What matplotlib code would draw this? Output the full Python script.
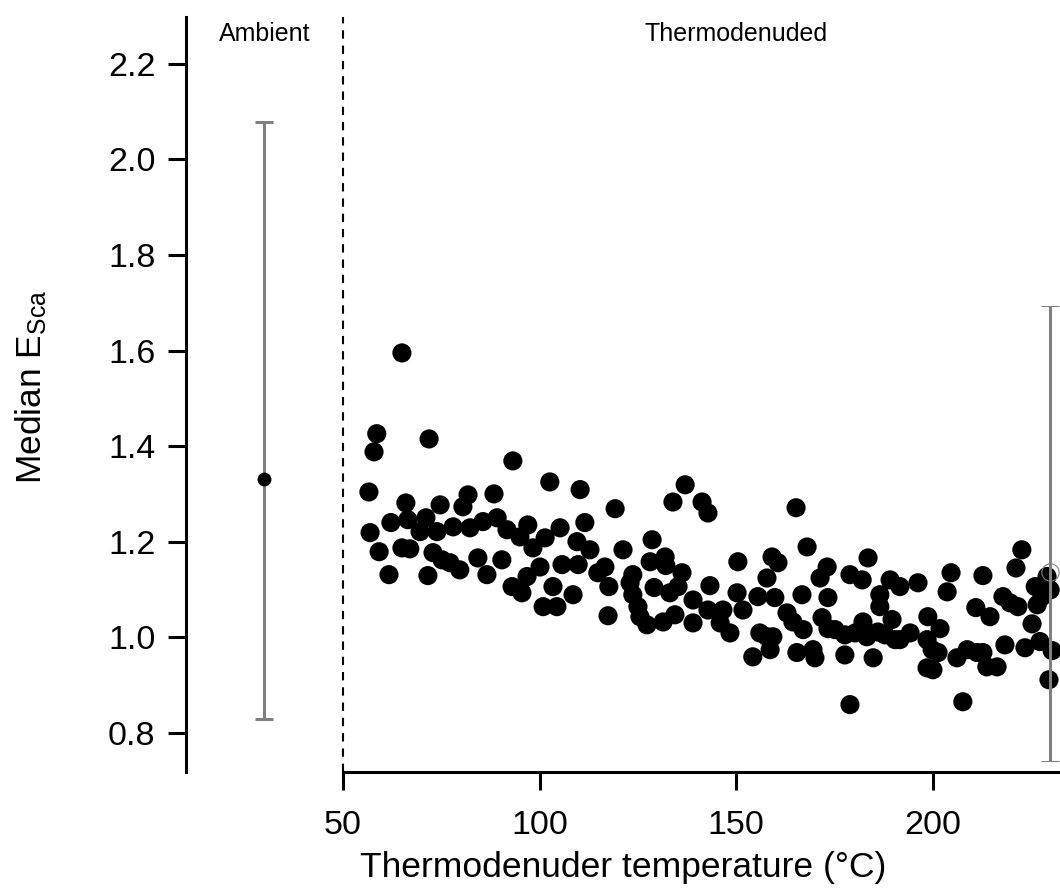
import matplotlib
matplotlib.use("Agg")
import matplotlib.pyplot as plt

plt.rcParams['font.family'] = ['Liberation Sans', 'DejaVu Sans']
plt.rcParams['mathtext.default'] = 'regular'
plt.rcParams['lines.scale_dashes'] = False

# Median E_Sca per thermodenuder temperature step (°C)
temperature = [
    56.6, 56.9, 57.9, 58.6, 59.2, 61.7, 62.2, 65.0, 66.0, 65.0,
    67.0, 66.5, 69.6, 71.1, 71.6, 71.9, 72.9, 74.7, 73.9, 75.2,
    78.0, 77.2, 79.7, 80.5, 81.8, 82.3, 84.3, 85.6, 86.6, 88.4,
    89.2, 90.4, 91.7, 93.2, 93.0, 95.5, 95.0, 97.0, 96.8, 98.3,
    100.1, 100.9, 101.4, 102.6, 103.4, 104.4, 105.2, 105.7, 108.5, 109.5,
    109.8, 110.3, 111.5, 112.8, 119.2, 121.2, 116.6, 114.8, 117.6, 117.4,
    128.6, 123.7, 123.0, 128.1, 131.9, 132.1, 136.2, 135.2, 129.1, 133.1,
    123.7, 125.0, 125.5, 127.3, 131.4, 134.4, 137.0, 133.9, 141.3, 142.8,
    139.0, 139.0, 143.3, 142.8, 145.9, 148.4, 146.6, 150.4, 150.2, 151.7,
    155.5, 154.2, 157.8, 158.6, 159.1, 160.6, 159.8, 156.0, 157.8, 159.3,
    162.9, 164.4, 167.0, 165.4, 169.5, 170.0, 165.2, 168.0, 166.7, 171.3,
    173.1, 173.3, 171.8, 173.3, 178.9, 182.0, 183.5, 177.6, 178.9, 175.1,
    177.6, 180.2, 182.2, 183.2, 184.8, 186.5, 186.5, 186.0, 187.8, 189.6,
    189.1, 191.6, 190.4, 191.6, 194.2, 196.2, 198.7, 201.8, 198.5, 199.8,
    198.5, 200.0, 201.3, 204.6, 203.6, 206.1, 208.7, 207.6, 211.2, 212.7,
    213.7, 216.3, 218.3, 210.9, 214.5, 212.7, 217.8, 219.6, 221.6, 221.1,
    222.6, 223.4, 225.2, 226.0, 226.5, 227.7, 229.8, 227.2, 230.3, 229.5,
    229.0,
]
e_sca = [
    1.304, 1.219, 1.388, 1.426, 1.179, 1.131, 1.240, 1.595, 1.281, 1.187,
    1.185, 1.246, 1.221, 1.250, 1.129, 1.415, 1.177, 1.277, 1.221, 1.162,
    1.231, 1.156, 1.141, 1.273, 1.298, 1.229, 1.166, 1.242, 1.131, 1.300,
    1.250, 1.162, 1.225, 1.369, 1.106, 1.093, 1.210, 1.235, 1.127, 1.187,
    1.147, 1.064, 1.208, 1.325, 1.106, 1.064, 1.229, 1.152, 1.089, 1.200,
    1.152, 1.309, 1.240, 1.183, 1.269, 1.183, 1.147, 1.135, 1.106, 1.045,
    1.204, 1.131, 1.114, 1.158, 1.168, 1.150, 1.135, 1.106, 1.104, 1.093,
    1.089, 1.064, 1.043, 1.026, 1.032, 1.047, 1.319, 1.283, 1.283, 1.260,
    1.078, 1.030, 1.108, 1.057, 1.030, 1.009, 1.057, 1.158, 1.093, 1.057,
    1.085, 0.959, 1.124, 0.974, 1.168, 1.156, 1.083, 1.009, 1.001, 1.001,
    1.051, 1.032, 1.016, 0.968, 0.974, 0.957, 1.271, 1.189, 1.089, 1.124,
    1.147, 1.083, 1.041, 1.018, 1.131, 1.120, 1.166, 0.963, 0.859, 1.016,
    1.005, 1.009, 1.032, 1.001, 0.957, 1.089, 1.064, 1.011, 1.005, 1.037,
    1.120, 1.106, 0.995, 0.995, 1.009, 1.114, 1.043, 1.018, 0.995, 0.974,
    0.936, 0.932, 0.968, 1.135, 1.095, 0.957, 0.974, 0.865, 0.968, 0.968,
    0.938, 0.938, 0.984, 1.062, 1.043, 1.129, 1.085, 1.072, 1.064, 1.145,
    1.183, 0.978, 1.028, 1.106, 1.068, 1.085, 1.099, 0.991, 0.972, 0.911,
    1.127,
]

# Summary statistics: median with min-max range
ambient_x = 30.0
ambient_median = 1.331
ambient_range = (0.829, 2.079)

denuded_x = 229.8
denuded_median = 1.136
denuded_range = (0.740, 1.694)

x_ticks = [50, 100, 150, 200]
y_ticks = [0.8, 1.0, 1.2, 1.4, 1.6, 1.8, 2.0, 2.2]

grey = '#808080'

fig = plt.figure(figsize=(10.6, 8.89), dpi=100)
ax = fig.add_axes([186 / 1060, 117 / 889, 874 / 1060, 755 / 889])

ax.scatter(temperature, e_sca, s=190, c='black', edgecolors='none',
           zorder=3, clip_on=False)

ax.errorbar([ambient_x], [ambient_median],
            yerr=[[ambient_median - ambient_range[0]],
                  [ambient_range[1] - ambient_median]],
            fmt='none', ecolor=grey, elinewidth=2.2, capsize=6.5, capthick=2.2,
            zorder=4)
ax.plot([ambient_x], [ambient_median], 'o', color='black', ms=10,
        mec='none', zorder=5)

ax.errorbar([denuded_x], [denuded_median],
            yerr=[[denuded_median - denuded_range[0]],
                  [denuded_range[1] - denuded_median]],
            fmt='o', mfc='none', mec=grey, ms=12.5, mew=0.8,
            ecolor=grey, elinewidth=2.2, capsize=6.5, capthick=2.2,
            zorder=4, clip_on=False)

ax.axvline(50, color='black', lw=1.5, ls=(0, (6, 5)), zorder=2)

ax.text(ambient_x, 2.248, 'Ambient', ha='center', va='baseline', fontsize=18)
ax.text(150, 2.248, 'Thermodenuded', ha='center', va='baseline', fontsize=18)

ax.set_xlim(10.1, 232.3)
ax.set_ylim(0.718, 2.298)
ax.set_xticks(x_ticks)
ax.set_yticks(y_ticks)
ax.set_yticklabels([f'{v:.1f}' for v in y_ticks])

for side in ('top', 'right'):
    ax.spines[side].set_visible(False)
ax.spines['left'].set_linewidth(2.2)
ax.spines['bottom'].set_linewidth(2.2)
ax.spines['bottom'].set_bounds(50, 232.3)

ax.tick_params(axis='both', direction='out', length=13, width=2.2,
               labelsize=24.5)
ax.tick_params(axis='x', pad=14)
ax.tick_params(axis='y', pad=9)

ax.set_xlabel('Thermodenuder temperature (°C)', fontsize=25.5)
ax.set_ylabel('Median E$_{Sca}$', fontsize=25.5)
ax.xaxis.set_label_coords(0.5, -0.105)
ax.yaxis.set_label_coords(-0.157, 0.51)

fig.savefig('out.png', dpi=100)
